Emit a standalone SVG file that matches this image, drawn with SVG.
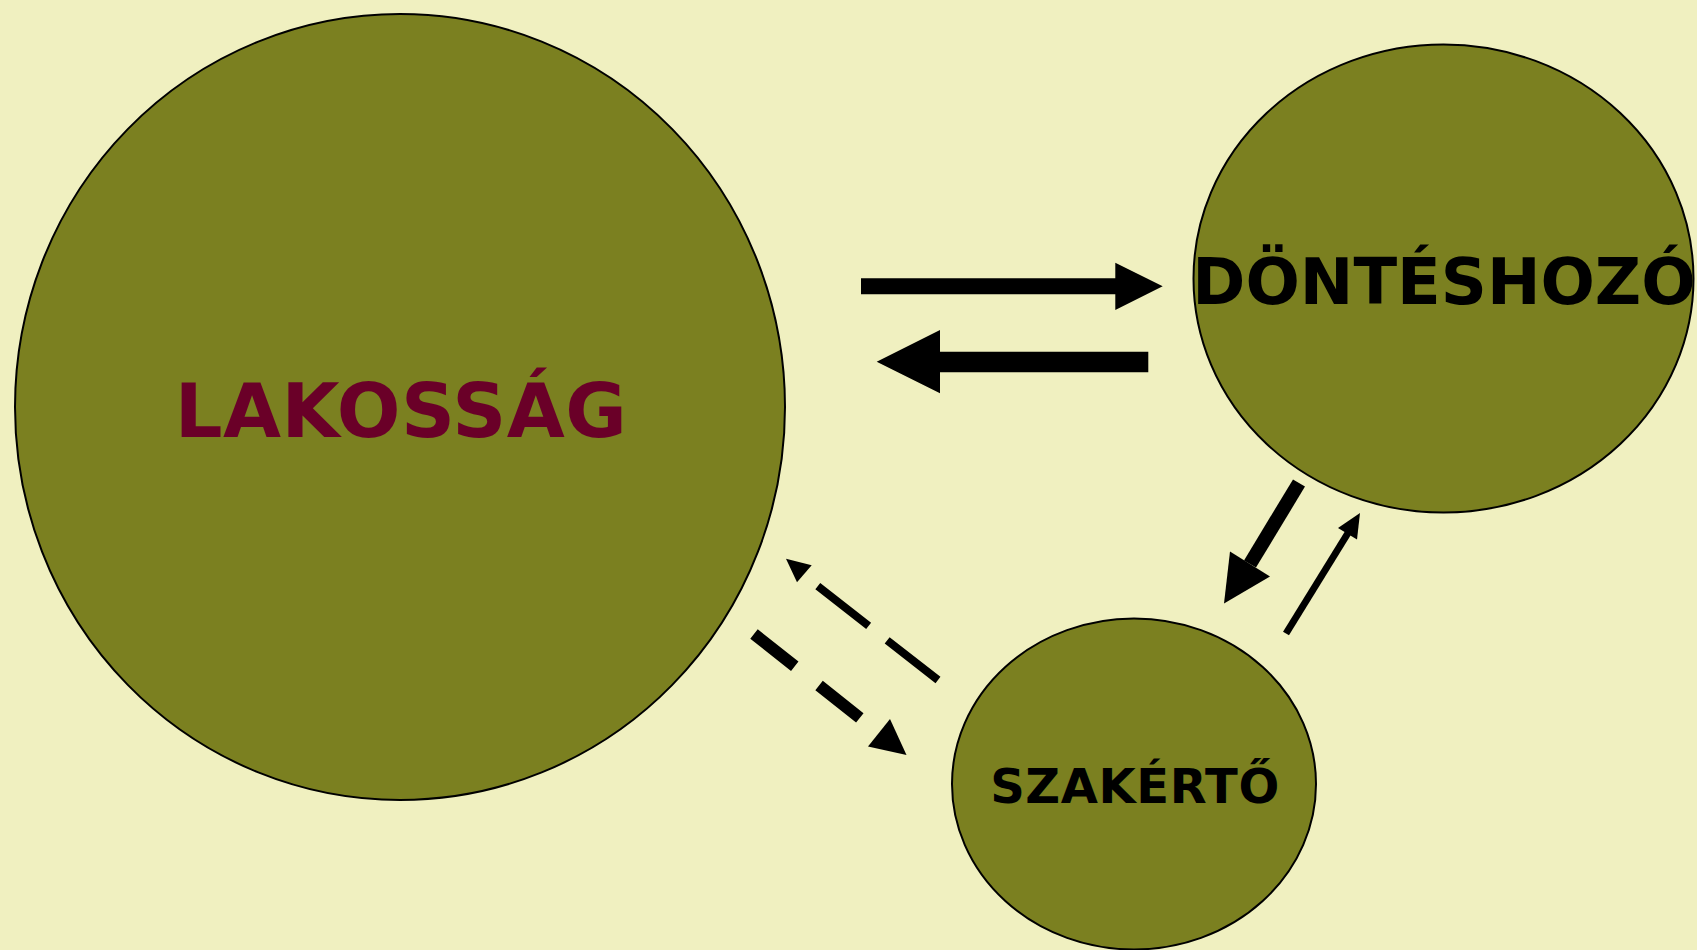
<svg xmlns="http://www.w3.org/2000/svg" width="1697" height="950" viewBox="0 0 1697 950">
<style>
.node{fill:#7b8020;stroke:#000;stroke-width:2}
.lbl{font-family:"DejaVu Sans",Verdana,sans-serif;font-weight:bold;text-anchor:middle}
.ah{fill:#000;stroke:none}
</style>
<rect x="0" y="0" width="1697" height="950" fill="#f0f0c0"/>
<g id="lakossag">
<ellipse class="node" cx="400" cy="407" rx="385" ry="393"/>
<text class="lbl" x="401" y="437" font-size="75" letter-spacing="0.5" fill="#6a0028">LAKOSSÁG</text>
</g>
<g id="donteshozo">
<ellipse class="node" cx="1443.5" cy="278.5" rx="250" ry="234"/>
<text class="lbl" x="1444" y="304" font-size="64" fill="#000">DÖNTÉSHOZÓ</text>
</g>
<g id="szakerto">
<ellipse class="node" cx="1134" cy="784" rx="182" ry="165.5"/>
<text class="lbl" x="1135" y="803" font-size="48" letter-spacing="0.6" fill="#000">SZAKÉRTŐ</text>
</g>
<g id="connectors">
<path class="ah" d="M861,278.3 H1115.3 V262.7 L1162.7,286.3 L1115.3,310 V294.3 H861 Z"/>
<path class="ah" d="M1148.3,351.7 H940 V330 L876.7,361.8 L940,393.3 V372.3 H1148.3 Z"/>
<line x1="938" y1="680" x2="817.6" y2="586" stroke="#000" stroke-width="8" stroke-dasharray="64.5 23.5"/>
<polygon class="ah" points="786,558.7 811.7,565.3 797,582.3"/>
<line x1="754" y1="634" x2="860" y2="718" stroke="#000" stroke-width="12" stroke-dasharray="52 31"/>
<polygon class="ah" points="906.5,755 890,719 868,746.5"/>
<line x1="1299" y1="483" x2="1250" y2="564" stroke="#000" stroke-width="14"/>
<polygon class="ah" points="1230,551.5 1270,576.5 1224,603.5"/>
<line x1="1286" y1="633.5" x2="1348" y2="533" stroke="#000" stroke-width="7"/>
<polygon class="ah" points="1360,513 1338,528 1357,539.5"/>
</g>
</svg>
